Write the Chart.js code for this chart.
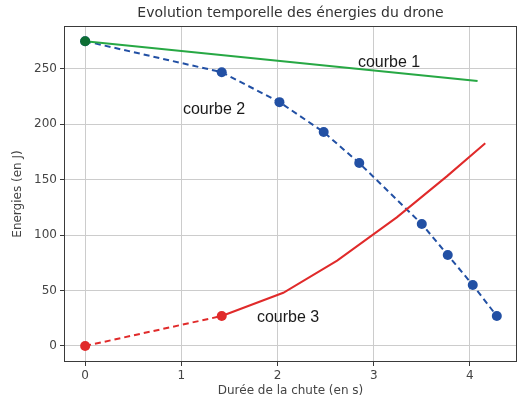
<!DOCTYPE html>
<html>
<head>
<meta charset="utf-8">
<script src="https://cdn.jsdelivr.net/npm/chart.js@4.4.1/dist/chart.umd.min.js"></script>
<style>
  html, body { margin: 0; padding: 0; background: #fff; }
  #chart { display: block; }
</style>
</head>
<body>
<canvas id="chart" width="530" height="399"></canvas>
<script>
// courbe 1 (énergie mécanique)
const tempsC1 = [0, 4.08];
const energieC1 = [275, 239];

// courbe 2 (énergie potentielle)
const tempsC2 = [0, 1.42, 2.02, 2.48, 2.85, 3.5, 3.77, 4.03, 4.28];
const energieC2 = [275, 247, 220, 193, 165, 110, 82, 55, 27];

// courbe 3 (énergie cinétique)
const tempsC3 = [0, 1.42, 2.06, 2.62, 3.24, 3.76, 4.16];
const energieC3 = [0, 27, 48, 77, 116, 153, 183];

const xTicks = [0, 1, 2, 3, 4];
const yTicks = [0, 50, 100, 150, 200, 250];

// étiquettes des courbes (position en coordonnées des données)
const etiquettes = [
  { text: "courbe 1", x: 3.16, y: 256 },
  { text: "courbe 2", x: 1.34, y: 213 },
  { text: "courbe 3", x: 2.11, y: 26 },
];

const toPoints = (xs, ys) => xs.map((x, i) => ({ x, y: ys[i] }));

const boxAndLabels = {
  id: "boxAndLabels",
  afterDatasetsDraw(chart) {
    const { ctx, chartArea, scales } = chart;
    ctx.save();
    ctx.strokeStyle = "#3a3a3a";
    ctx.lineWidth = 1;
    ctx.strokeRect(chartArea.left + 0.5, chartArea.top + 0.5,
      chartArea.right - chartArea.left - 1, chartArea.bottom - chartArea.top - 1);
    ctx.fillStyle = "#1a1a1a";
    ctx.font = "16px 'Liberation Sans', Arial, sans-serif";
    ctx.textAlign = "center";
    ctx.textBaseline = "middle";
    etiquettes.forEach((e) => {
      ctx.fillText(e.text, scales.x.getPixelForValue(e.x), scales.y.getPixelForValue(e.y));
    });
    ctx.fillStyle = "#333";
    ctx.font = "14px 'DejaVu Sans', sans-serif";
    ctx.fillText("Evolution temporelle des énergies du drone",
      (chartArea.left + chartArea.right) / 2, 13);
    ctx.restore();
  },
};

new Chart(document.getElementById("chart"), {
  type: "line",
  data: {
    // le premier jeu est dessiné au-dessus des autres
    datasets: [
      {
        label: "courbe 1",
        data: toPoints(tempsC1, energieC1),
        borderColor: "#27a844",
        backgroundColor: "#0d6e33",
        borderWidth: 2,
        pointRadius: energieC1.map((_, i) => (i === 0 ? 5 : 0)),
        pointBorderWidth: 0,
        tension: 0,
      },
      {
        label: "courbe 3",
        data: toPoints(tempsC3, energieC3),
        borderColor: "#e02a2a",
        backgroundColor: "#e02a2a",
        borderWidth: 2,
        pointRadius: energieC3.map((_, i) => (i < 2 ? 5 : 0)),
        pointBorderWidth: 0,
        segment: { borderDash: (c) => (c.p0DataIndex === 0 ? [6, 4] : []) },
        tension: 0,
      },
      {
        label: "courbe 2",
        data: toPoints(tempsC2, energieC2),
        borderColor: "#2250a4",
        backgroundColor: "#2250a4",
        borderWidth: 2,
        borderDash: [6, 4],
        pointRadius: 5,
        pointBorderWidth: 0,
        tension: 0,
      },
    ],
  },
  options: {
    responsive: false,
    animation: false,
    layout: { padding: { left: 0, right: 13, top: 26, bottom: 0 } },
    plugins: { legend: { display: false }, tooltip: { enabled: false } },
    scales: {
      x: {
        type: "linear",
        min: -0.22,
        max: 4.49,
        afterFit: (s) => { s.height = 37; },
        afterBuildTicks: (s) => { s.ticks = xTicks.map((v) => ({ value: v })); },
        grid: { color: "#cccccc", lineWidth: 1, tickLength: 4, tickColor: "#3a3a3a" },
        border: { display: false },
        ticks: { color: "#444", padding: 3, font: { family: "DejaVu Sans", size: 12 } },
        title: {
          display: true,
          text: "Durée de la chute (en s)",
          color: "#444",
          padding: { top: 0, bottom: 1 },
          font: { family: "DejaVu Sans", size: 12 },
        },
      },
      y: {
        type: "linear",
        min: -14.5,
        max: 288.7,
        afterFit: (s) => { s.width = 64; },
        afterBuildTicks: (s) => { s.ticks = yTicks.map((v) => ({ value: v })); },
        grid: { color: "#cccccc", lineWidth: 1, tickLength: 4, tickColor: "#3a3a3a" },
        border: { display: false },
        ticks: { color: "#444", padding: 3, font: { family: "DejaVu Sans", size: 12 } },
        title: {
          display: true,
          text: "Energies (en J)",
          color: "#444",
          padding: { top: 11, bottom: 0 },
          font: { family: "DejaVu Sans", size: 12 },
        },
      },
    },
  },
  plugins: [boxAndLabels],
});
</script>
</body>
</html>
